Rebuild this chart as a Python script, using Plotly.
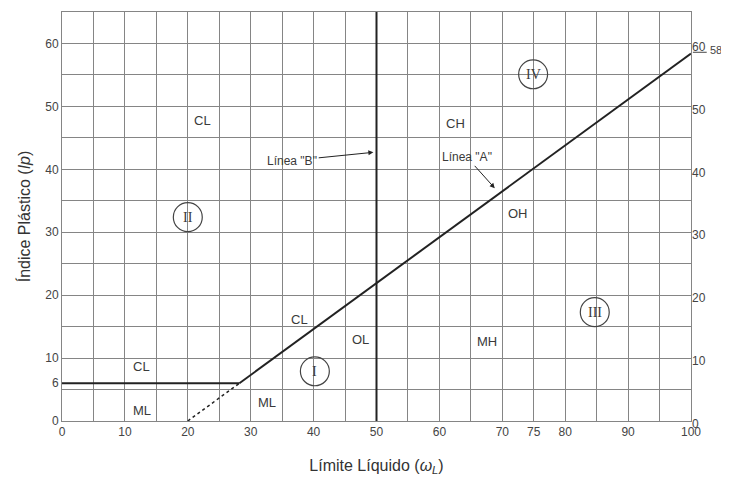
import plotly.graph_objects as go

# ---- data ----
x_ticks = [0, 10, 20, 30, 40, 50, 60, 70, 75, 80, 90, 100]
y_ticks_left = [0, 6, 10, 20, 30, 40, 50, 60]
y_ticks_right = [0, 10, 20, 30, 40, 50, 60]
grid_x = [0, 5, 10, 15, 20, 25, 30, 35, 40, 45, 50, 55, 60, 65, 70, 75, 80, 85, 90, 95, 100]
grid_y = [0, 5, 10, 15, 20, 25, 30, 35, 40, 45, 50, 55, 60, 65]

# Line "A" (solid part), dotted extension, IP=6 limit and Line "B"
a_line_x = [28.2, 100]
a_line_y = [6, 58.4]
a_dotted_x = [20, 28.2]
a_dotted_y = [0, 6]
ip6_x = [0, 28.2]
ip6_y = [6, 6]
b_line_x = [50, 50]
b_line_y = [0, 65]

# zone labels
zone_text = ["CL", "CH", "OH", "CL", "OL", "MH", "ML", "CL", "ML"]
zone_x = [22.4, 62.5, 72.5, 37.8, 47.5, 67.6, 32.6, 12.7, 12.7]
zone_y = [47.8, 47.3, 33.0, 16.2, 12.9, 12.7, 2.9, 8.6, 1.7]

# circled roman numerals
roman_text = ["I", "II", "III", "IV"]
roman_x = [40.2, 20.0, 84.7, 74.9]
roman_y = [7.9, 32.4, 17.3, 55.1]

SANS = "Liberation Sans, Arial, sans-serif"
SERIF = "Liberation Serif, Times New Roman, serif"
GRID = "#858585"
INK = "#222222"
TXT = "#3a3a3a"

fig = go.Figure()
fig.add_trace(go.Scatter(x=a_line_x, y=a_line_y, mode="lines",
                         line=dict(color=INK, width=2), showlegend=False, hoverinfo="skip"))
fig.add_trace(go.Scatter(x=a_dotted_x, y=a_dotted_y, mode="lines",
                         line=dict(color=INK, width=1.5, dash="dot"), showlegend=False, hoverinfo="skip"))
fig.add_trace(go.Scatter(x=ip6_x, y=ip6_y, mode="lines",
                         line=dict(color=INK, width=2), showlegend=False, hoverinfo="skip"))
fig.add_trace(go.Scatter(x=b_line_x, y=b_line_y, mode="lines",
                         line=dict(color=INK, width=2), showlegend=False, hoverinfo="skip"))
# invisible trace for right axis
fig.add_trace(go.Scatter(x=[0], y=[0], yaxis="y2", mode="markers",
                         marker=dict(opacity=0), showlegend=False, hoverinfo="skip"))

annotations = []
for t, x, y in zip(zone_text, zone_x, zone_y):
    annotations.append(dict(x=x, y=y, text=t, showarrow=False,
                            font=dict(family=SANS, size=13, color=TXT)))
shapes = []
r = 2.3
for t, x, y in zip(roman_text, roman_x, roman_y):
    annotations.append(dict(x=x, y=y, text=t, showarrow=False,
                            font=dict(family=SERIF, size=14, color=TXT)))
    shapes.append(dict(type="circle", xref="x", yref="y", x0=x - r, x1=x + r,
                       y0=y - r, y1=y + r, line=dict(color="#444", width=1.2)))

# arrows
annotations.append(dict(x=49.5, y=42.7, ax=36.6, ay=41.4, axref="x", ayref="y",
                        text='Línea "B"', showarrow=True, arrowhead=2, arrowsize=1,
                        arrowwidth=1, arrowcolor=INK, standoff=0,
                        font=dict(family=SANS, size=12, color=TXT)))
annotations.append(dict(x=68.8, y=37.0, ax=64.4, ay=41.9, axref="x", ayref="y",
                        text='Línea "A"', showarrow=True, arrowhead=2, arrowsize=1,
                        arrowwidth=1, arrowcolor=INK, standoff=0,
                        font=dict(family=SANS, size=12, color=TXT)))
# "58" beside the right-axis 60
annotations.append(dict(x=100, y=58.9, text="58", showarrow=False, xanchor="left",
                        xshift=17, font=dict(family=SANS, size=11, color="#444")))

# underline of the right "60"
shapes.append(dict(type="line", xref="paper", yref="y", x0=1.003, x1=1.025,
                   y0=58.6, y1=58.6, line=dict(color="#444", width=1)))

# the page body adds an 8px offset, so the figure is sized to fit inside it
fig.update_layout(
    width=721, height=477,
    margin=dict(l=54, r=38, t=4, b=64, autoexpand=False),
    paper_bgcolor="white", plot_bgcolor="white",
    showlegend=False,
    annotations=annotations,
    shapes=shapes,
    xaxis=dict(range=[0, 100], tickmode="array", tickvals=x_ticks,
               ticktext=[str(v) for v in x_ticks], showgrid=False, zeroline=False,
               showline=True, mirror=True, linecolor=GRID, linewidth=1,
               ticks="", tickfont=dict(family=SANS, size=12, color="#444"),
               automargin=False,
               minor=dict(tickmode="array", tickvals=grid_x, showgrid=True,
                          gridcolor=GRID, gridwidth=1),
               title=dict(text="Límite Líquido (<i>ω<sub>L</sub></i>)",
                          font=dict(family=SANS, size=16, color="#333"), standoff=21)),
    yaxis=dict(range=[0, 65], tickmode="array", tickvals=y_ticks_left,
               ticktext=[str(v) for v in y_ticks_left], showgrid=False, zeroline=False,
               showline=True, mirror=True, linecolor=GRID, linewidth=1,
               ticks="", tickfont=dict(family=SANS, size=12, color="#444"),
               automargin=False,
               minor=dict(tickmode="array", tickvals=grid_y, showgrid=True,
                          gridcolor=GRID, gridwidth=1),
               title=dict(text="Índice Plástico (<i>Ip</i>)",
                          font=dict(family=SANS, size=16, color="#333"), standoff=10)),
    yaxis2=dict(range=[0, 65], overlaying="y", side="right", tickmode="array",
                tickvals=y_ticks_right, ticktext=[str(v) for v in y_ticks_right],
                showgrid=False, zeroline=False, ticks="", automargin=False,
                ticklabelshift=3,
                tickfont=dict(family=SANS, size=12, color="#444")),
)

fig.write_html("out.html")
